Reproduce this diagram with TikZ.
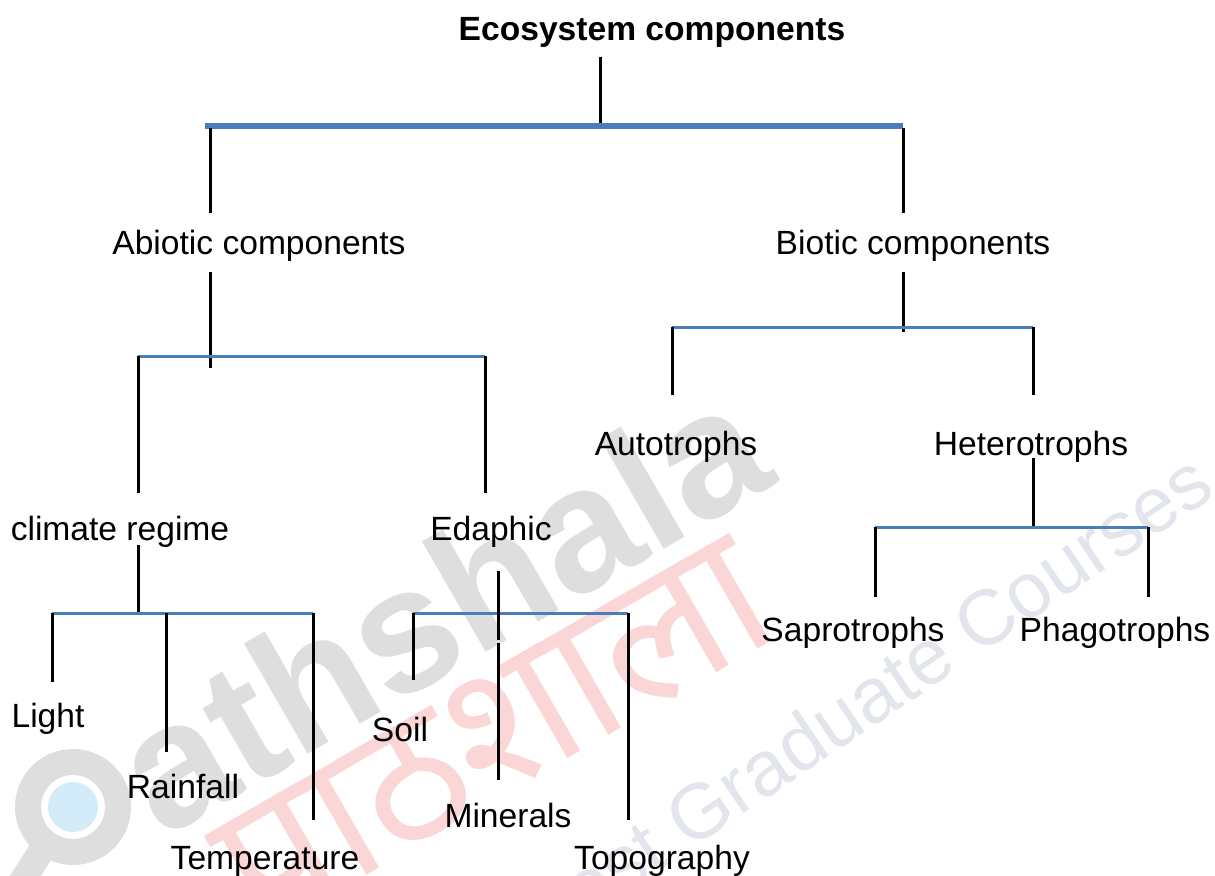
\documentclass[tikz,border=0pt]{standalone}
\usepackage{fontspec}
\setmainfont{Liberation Sans}
\newfontfamily\devfont[Script=Devanagari]{Noto Sans}
\definecolor{barblue}{RGB}{74,126,187}
\definecolor{markgray}{RGB}{222,222,222}
\definecolor{markred}{RGB}{250,214,214}
\definecolor{markblue}{RGB}{212,235,249}
\definecolor{marktext}{RGB}{226,229,236}
\begin{document}
\begin{tikzpicture}[x=0.5pt,y=-0.5pt,
  lbl/.style={anchor=base,inner sep=0pt,font=\fontsize{16.8}{20}\selectfont},
  ttl/.style={anchor=base,inner sep=0pt,font=\fontsize{16.8}{20}\selectfont\bfseries},
  stem/.style={draw=black,line width=1.5pt},
  bar/.style={draw=barblue,line width=1.5pt},
  mainbar/.style={draw=barblue,line width=3pt}]
\useasboundingbox (0,0) rectangle (1215,875);

% ---- background logo mark ----
\begin{scope}
  \clip (0,0) rectangle (1215,875);
  \fill[markblue] (73,807) circle (25);
  \draw[markgray,line width=13pt] (73,807) circle (45);
  \draw[markgray,line width=13pt] (45,845) -- (10,900);
  \node[anchor=center,inner sep=0pt,rotate=30,text=markgray,
        font=\fontsize{88}{94}\selectfont\bfseries] (mkname) at (440,606) {athshala};
  \node[anchor=center,inner sep=0pt,rotate=30,text=markred,
        font=\devfont\fontsize{92}{100}\selectfont] (mkdev) at (495,735) {पाठशाला};
  \node[anchor=base,inner sep=0pt,rotate=34,text=marktext,
        font=\fontsize{39}{45}\selectfont] (mkpg) at (880,722) {Post Graduate Courses};
\end{scope}

% ---- labels ----
\node[ttl] (eco) at (652,40) {Ecosystem components};
\node[lbl] (abio) at (259,254) {Abiotic components};
\node[lbl] (bio) at (913,254) {Biotic components};
\node[lbl] (clim) at (120,540) {climate regime};
\node[lbl] (edap) at (491,540) {Edaphic};
\node[lbl] (light) at (48,727) {Light};
\node[lbl] (rain) at (183,798) {Rainfall};
\node[lbl] (temp) at (265,869) {Temperature};
\node[lbl] (soil) at (400,741) {Soil};
\node[lbl] (mins) at (508,827) {Minerals};
\node[lbl] (topo) at (662,869) {Topography};
\node[lbl] (auto) at (676,455) {Autotrophs};
\node[lbl] (hete) at (1031,455) {Heterotrophs};
\node[lbl] (sapr) at (853,641) {Saprotrophs};
\node[lbl] (phag) at (1115,641) {Phagotrophs};

% ---- junction points ----
\coordinate (ecoS) at (600,57);
\coordinate (top) at (600,125);
\coordinate (topL) at (205,126);
\coordinate (topR) at (903,126);
\coordinate (abioN) at (210,128);  \coordinate (abioT) at (210,213);
\coordinate (bioN) at (903,128);   \coordinate (bioT) at (903,213);

\coordinate (abioS) at (210,272);  \coordinate (abioB) at (210,368);
\coordinate (aL) at (138,356);     \coordinate (aR) at (485,356);
\coordinate (climT) at (138,493);  \coordinate (edapT) at (485,493);

\coordinate (climS) at (138,545);  \coordinate (climB) at (138,613);
\coordinate (cL) at (52,613);      \coordinate (cR) at (313,613);
\coordinate (cM) at (166,613);
\coordinate (lightT) at (52,682);
\coordinate (rainT) at (166,752);
\coordinate (tempT) at (313,820);

\coordinate (edapS) at (498,571);  \coordinate (edapB) at (498,640);
\coordinate (minsS) at (498,643);  \coordinate (minsT) at (498,780);
\coordinate (eL) at (413,613);     \coordinate (eR) at (628,613);
\coordinate (soilT) at (413,680);
\coordinate (topoT) at (628,820);

\coordinate (bioS) at (903,272);   \coordinate (bioB) at (903,332);
\coordinate (bL) at (672,327);     \coordinate (bR) at (1033,327);
\coordinate (autoT) at (672,395);  \coordinate (heteT) at (1033,395);

\coordinate (heteS) at (1033,458); \coordinate (heteB) at (1033,527);
\coordinate (hL) at (875,527);     \coordinate (hR) at (1148,527);
\coordinate (saprT) at (875,597);  \coordinate (phagT) at (1148,597);

% ---- top level ----
\draw[stem] (ecoS) -- (top);
\draw[mainbar] (topL) -- (topR);
\draw[stem] (abioN) -- (abioT);
\draw[stem] (bioN) -- (bioT);

% ---- abiotic branch ----
\draw[stem] (abioS) -- (abioB);
\draw[bar] (aL) -- (aR);
\draw[stem] (aL) -- (climT);
\draw[stem] (aR) -- (edapT);

\draw[stem] (climS) -- (climB);
\draw[bar] (cL) -- (cR);
\draw[stem] (cL) -- (lightT);
\draw[stem] (cM) -- (rainT);
\draw[stem] (cR) -- (tempT);

\draw[bar] (eL) -- (eR);
\draw[stem] (edapS) -- (edapB);
\draw[stem] (minsS) -- (minsT);
\draw[stem] (eL) -- (soilT);
\draw[stem] (eR) -- (topoT);

% ---- biotic branch ----
\draw[stem] (bioS) -- (bioB);
\draw[bar] (bL) -- (bR);
\draw[stem] (bL) -- (autoT);
\draw[stem] (bR) -- (heteT);

\draw[stem] (heteS) -- (heteB);
\draw[bar] (hL) -- (hR);
\draw[stem] (hL) -- (saprT);
\draw[stem] (hR) -- (phagT);
\end{tikzpicture}
\end{document}
